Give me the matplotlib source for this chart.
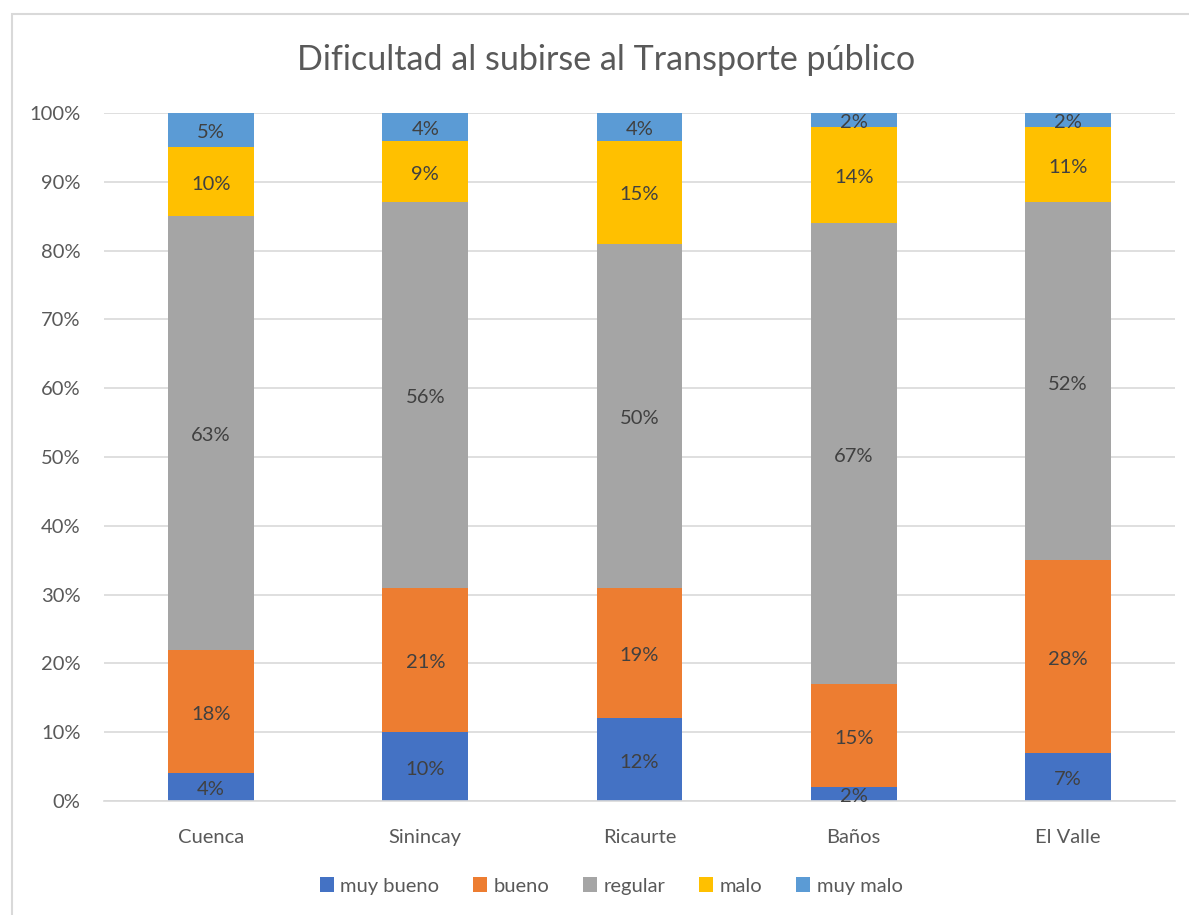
import matplotlib.pyplot as plt
from matplotlib.patches import Rectangle
import numpy as np

plt.rcParams['font.family'] = ['Lato', 'DejaVu Sans']

places = ["Cuenca", "Sinincay", "Ricaurte", "Baños", "El Valle"]
series = ["muy bueno", "bueno", "regular", "malo", "muy malo"]
muy_bueno = [4, 10, 12, 2, 7]
bueno = [18, 21, 19, 15, 28]
regular = [63, 56, 50, 67, 52]
malo = [10, 9, 15, 14, 11]
muy_malo = [5, 4, 4, 2, 2]
colors = ["#4472C4", "#ED7D31", "#A5A5A5", "#FFC000", "#5B9BD5"]

data = [muy_bueno, bueno, regular, malo, muy_malo]

W, H = 1189, 915
fig = plt.figure(figsize=(W / 100, H / 100), dpi=100)
fig.patches.append(Rectangle((12 / W, -0.1), 1.2, 1.1 - 14 / H, transform=fig.transFigure,
                             fill=False, edgecolor="#D9D9D9", linewidth=1.5))
ax = fig.add_axes([104 / W, 1 - 801 / H, (1175 - 104) / W, (801 - 113) / H])

x = np.arange(len(places))
bottom = np.zeros(len(places))
for name, vals, c in zip(series, data, colors):
    vals = np.array(vals, dtype=float)
    ax.bar(x, vals, 0.4, bottom=bottom, color=c, label=name, zorder=2)
    for xi, b, v in zip(x, bottom, vals):
        ax.text(xi, b + v / 2 - 0.4, f"{int(v)}%", ha="center", va="center",
                fontsize=14.5, color="#404040", zorder=3)
    bottom += vals

ax.set_xlim(-0.5, len(places) - 0.5)
ax.set_ylim(0, 100)
ax.set_yticks(range(0, 101, 10))
ax.set_yticklabels([f"{t}%" for t in range(0, 101, 10)])
ax.set_xticks(x)
ax.set_xticklabels(places)
ax.tick_params(axis="both", length=0, labelsize=14.5, labelcolor="#595959")
ax.tick_params(axis="x", pad=20)
ax.tick_params(axis="y", pad=17)
ax.grid(axis="y", color="#D9D9D9", linewidth=1.2, zorder=0)
for s in ["top", "right", "left"]:
    ax.spines[s].set_visible(False)
ax.spines["bottom"].set_color("#D9D9D9")
ax.spines["bottom"].set_linewidth(1.2)

fig.text(606 / W, 1 - 60 / H, "Dificultad al subirse al Transporte público",
         ha="center", va="center", fontsize=24.5, color="#595959")

fig.legend(loc="center", bbox_to_anchor=(611 / W, 1 - 886 / H), ncol=5, frameon=False,
           fontsize=14.5, handlelength=0.7, handleheight=0.7, handletextpad=0.3,
           columnspacing=1.7, labelcolor="#595959")

fig.savefig("out.png", dpi=100)
